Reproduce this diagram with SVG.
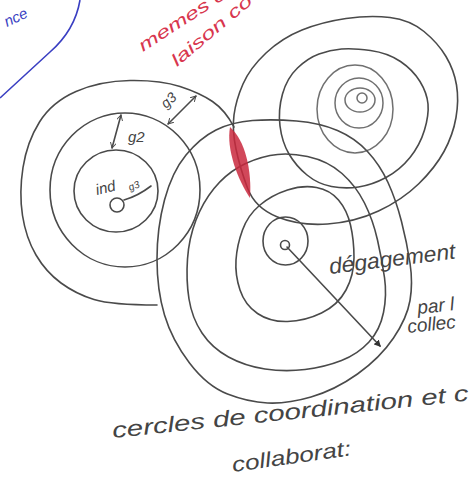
<svg xmlns="http://www.w3.org/2000/svg" width="473" height="477" viewBox="0 0 473 477">
<style>
.p{fill:none;stroke:#4a4a4a;stroke-width:1.6;stroke-linecap:round;stroke-linejoin:round}
.pl{fill:none;stroke:#707070;stroke-width:1.5;stroke-linecap:round}
.h{font-family:"Liberation Sans","DejaVu Sans",sans-serif;font-style:italic;fill:#444}
.red{font-family:"Liberation Sans","DejaVu Sans",sans-serif;font-style:italic;fill:#d8364e}
.blue{font-family:"Liberation Sans","DejaVu Sans",sans-serif;font-style:italic;fill:#3a3fc2}
</style>
<defs>
<marker id="tri" viewBox="0 0 10 10" refX="8" refY="5" markerWidth="7" markerHeight="7" orient="auto" markerUnits="userSpaceOnUse">
<path d="M0,0 L10,5 L0,10 Z" fill="#333"/>
</marker>
<marker id="chev" viewBox="0 0 10 10" refX="9" refY="5" markerWidth="6" markerHeight="6" orient="auto-start-reverse" markerUnits="userSpaceOnUse">
<path d="M0,0 L9,5 L0,10" fill="none" stroke="#4a4a4a" stroke-width="1.6"/>
</marker>
</defs>
<rect width="473" height="477" fill="#ffffff"/>

<g id="blue-note">
<path d="M80,0 Q75,30 50,52 Q25,75 0,98" fill="none" stroke="#3a3fc2" stroke-width="1.6"/>
<text class="blue" x="7" y="27" font-size="15" transform="rotate(-25 7 27)">nce</text>
</g>

<g id="red-note">
<text class="red" x="143" y="52" font-size="17" textLength="100" lengthAdjust="spacingAndGlyphs" transform="rotate(-33 143 52)">memes c</text>
<text class="red" x="177" y="67" font-size="17" textLength="100" lengthAdjust="spacingAndGlyphs" transform="rotate(-40 177 67)">laison co</text>
</g>

<g id="cluster-upper-right">
<path class="p" d="M346,18.5 Q370,15 390,17.5 Q410,20 424,31.5 Q438,43 446,56.5 Q454,70 456.5,85 Q459,100 456,117.5 Q453,135 444,151.5 Q435,168 418.5,184 Q402,200 378.5,211 Q355,222 327.5,224 Q300,226 277.5,217 Q255,208 247.5,188 Q240,168 236,149 Q232,130 234,115 Q236,100 243,84 Q250,68 266,53 Q282,38 302,30 Q322,22 346,18.5 Z"/>
<path class="p" d="M341.5,49 Q353,48 370.5,50.5 Q388,53 400.5,61.5 Q413,70 420,81.5 Q427,93 428,104 Q429,115 424.5,130 Q420,145 410,157.5 Q400,170 386,177.5 Q372,185 358.5,187 Q345,189 331.5,186.5 Q318,184 307,175 Q296,166 289,154 Q282,142 280,126 Q278,110 282.5,94 Q287,78 297.5,68 Q308,58 319,54 Q330,50 341.5,49 Z"/>
<ellipse class="pl" cx="355" cy="109" rx="38" ry="44"/>
<ellipse class="pl" cx="359" cy="103" rx="24" ry="25"/>
<ellipse class="pl" cx="360" cy="100" rx="15" ry="12"/>
<circle class="pl" cx="362" cy="98" r="5"/>
</g>

<g id="cluster-left">
<path class="p" d="M157,305 Q112,305 94,299.5 Q76,294 61,283 Q46,272 36,255 Q26,238 22.5,215.5 Q19,193 23,167.5 Q27,142 39.5,122 Q52,102 76,91.5 Q100,81 130,80.5 Q160,80 180,86.5 Q200,93 212.5,101.5 Q225,110 234,127"/>
<ellipse class="p" cx="125" cy="190" rx="75" ry="77"/>
<ellipse class="p" cx="116" cy="191" rx="42" ry="41"/>
<circle class="p" cx="117" cy="205" r="7"/>
<text class="h" x="97" y="195" font-size="15" transform="rotate(-14 97 195)">ind</text>
<text class="h" x="130" y="191" font-size="10" transform="rotate(-22 130 191)">g3</text>
<path class="p" d="M124,200 Q138,196 151,186"/>
<text class="h" x="128" y="142" font-size="15">g2</text>
<text class="h" x="166" y="109" font-size="14" transform="rotate(-42 166 109)">g3</text>
</g>

<g id="cluster-lower">
<path class="p" d="M252.5,120.5 Q273,119 296.5,121 Q320,123 337.5,130.5 Q355,138 367.5,151.5 Q380,165 388,182.5 Q396,200 401.5,221.5 Q407,243 410,263 Q413,283 410,300.5 Q407,318 393.5,338 Q380,358 357.5,374 Q335,390 311,397 Q287,404 267.5,403 Q248,402 227.5,394 Q207,386 189.5,363 Q172,340 164.5,315 Q157,290 157,259 Q157,228 164.5,200 Q172,172 186,155 Q200,138 216,130 Q232,122 252.5,120.5 Z"/>
<path class="p" d="M270,155.5 Q287,152 307.5,156.5 Q328,161 342,173.5 Q356,186 364.5,203 Q373,220 377.5,240 Q382,260 384.5,277.5 Q387,295 383.5,312.5 Q380,330 369,342 Q358,354 341.5,360.5 Q325,367 305,369.5 Q285,372 265,369 Q245,366 228.5,357 Q212,348 202,333 Q192,318 189,299 Q186,280 187.5,259 Q189,238 196,220 Q203,202 214,188.5 Q225,175 239,167 Q253,159 270,155.5 Z"/>
<path class="p" d="M287.5,190 Q303,185 316.5,187.5 Q330,190 338.5,200 Q347,210 350.5,225 Q354,240 354,257.5 Q354,275 346,290 Q338,305 321.5,313 Q305,321 287.5,321.5 Q270,322 257.5,313.5 Q245,305 240,290 Q235,275 236,260 Q237,245 242.5,230 Q248,215 260,205 Q272,195 287.5,190 Z"/>
<ellipse class="p" cx="285.5" cy="241" rx="22.5" ry="24"/>
<circle class="p" cx="285" cy="245" r="4.5"/>
</g>

<g id="overlap-zone">
<path d="M230,127 C245,140 252,170 250,198 C238,180 226,150 230,127 Z" fill="#c9283d" fill-opacity="0.85"/>
</g>

<g id="connectors">
<line class="p" x1="121" y1="115" x2="112" y2="148" marker-start="url(#chev)" marker-end="url(#chev)"/>
<line class="p" x1="168" y1="124" x2="196" y2="96" marker-start="url(#chev)" marker-end="url(#chev)"/>
<line class="p" x1="287" y1="247" x2="380" y2="346" marker-end="url(#tri)"/>
</g>

<g id="labels">
<text class="h" x="330" y="274" font-size="22" textLength="127" lengthAdjust="spacingAndGlyphs" transform="rotate(-7 330 274)">dégagement</text>
<text class="h" x="418" y="314" font-size="19" transform="rotate(-6 418 314)">par l</text>
<text class="h" x="408" y="333" font-size="19" transform="rotate(-6 408 333)">collec</text>
<text class="h" x="113" y="438" font-size="22" textLength="358" lengthAdjust="spacingAndGlyphs" transform="rotate(-6 113 438)">cercles de coordination et c</text>
<text class="h" x="233" y="472" font-size="21" textLength="120" lengthAdjust="spacingAndGlyphs" transform="rotate(-8 233 472)">collaborat:</text>
</g>
</svg>
